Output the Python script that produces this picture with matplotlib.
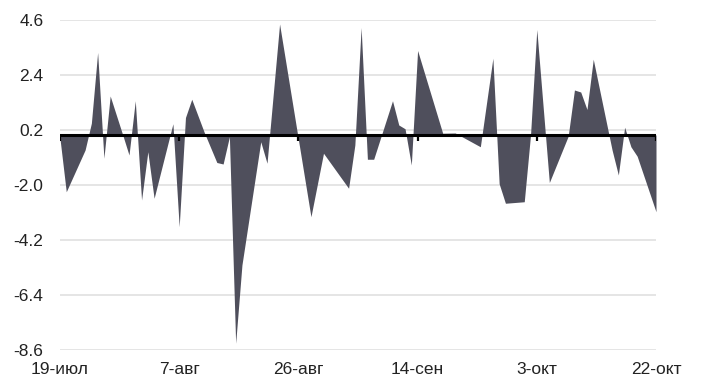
import numpy as np
import pandas as pd
import matplotlib
matplotlib.use('Agg')
import matplotlib.pyplot as plt

# days after start date (vertices of the area) and values
start = '2019-07-19'
days = [0, 1, 4, 5, 6, 7, 8, 10, 11, 12, 13, 14, 15, 18, 19, 20, 21, 23, 25, 26,
        27, 28, 29, 32, 33, 35, 40, 42, 46, 47, 48, 49, 50, 53, 54, 55, 56, 57, 61,
        63, 67, 69, 70, 71, 74, 75, 76, 78, 81, 82, 83, 84, 85, 88, 89, 90, 91, 92, 95]
values = [-0.15, -2.27, -0.6, 0.47, 3.3, -0.93, 1.56, 0.0, -0.8, 1.37, -2.6, -0.67, -2.53,
          0.45, -3.67, 0.7, 1.43, 0.1, -1.1, -1.16,
          -0.07, -8.33, -5.2, -0.27, -1.13, 4.44, -3.27, -0.73, -2.13, -0.4, 4.3, -0.97,
          -0.97, 1.37, 0.4, 0.25, -1.2, 3.38, 0.07,
          0.08, -0.47, 3.07, -1.95, -2.73, -2.67, 0.0, 4.22, -1.9, -0.05, 1.8, 1.72,
          1.02, 3.03, -0.6, -1.6, 0.31, -0.47, -0.85, -3.07]

tick_labels = ['19-июл', '7-авг', '26-авг', '14-сен', '3-окт', '22-окт']
tick_days = [0, 19, 38, 57, 76, 95]
y_ticks = [4.6, 2.4, 0.2, -2.0, -4.2, -6.4, -8.6]

t0 = pd.Timestamp(start)
dates = t0 + pd.to_timedelta(days, unit='D')
tick_dates = t0 + pd.to_timedelta(tick_days, unit='D')

plt.rcParams['font.family'] = ['Liberation Sans', 'DejaVu Sans']

fig = plt.figure(figsize=(7.02, 3.85), dpi=100)
ax = fig.add_axes([60/702, 35/385, 596/702, 330/385])

ax.fill_between(dates, values, 0, color='#4f4f5c', linewidth=0)
ax.axhline(0, color='black', lw=2.2, zorder=3)
ax.vlines(tick_dates, -0.22, 0, color='black', lw=1.6, zorder=3)

ax.set_xlim(tick_dates[0], tick_dates[-1])
ax.set_ylim(-8.6, 4.6)
ax.set_yticks(y_ticks)
ax.set_yticklabels(['%.1f' % v for v in y_ticks])
ax.set_xticks(tick_dates)
ax.set_xticklabels(tick_labels)

ax.grid(axis='y', color='#e0e0e0', lw=1.2)
ax.set_axisbelow(True)
for s in ax.spines.values():
    s.set_visible(False)
ax.tick_params(axis='both', length=0, labelsize=12.5, labelcolor='#222222')
ax.tick_params(axis='x', pad=9)
ax.tick_params(axis='y', pad=12)

fig.savefig('out.png', dpi=100)
